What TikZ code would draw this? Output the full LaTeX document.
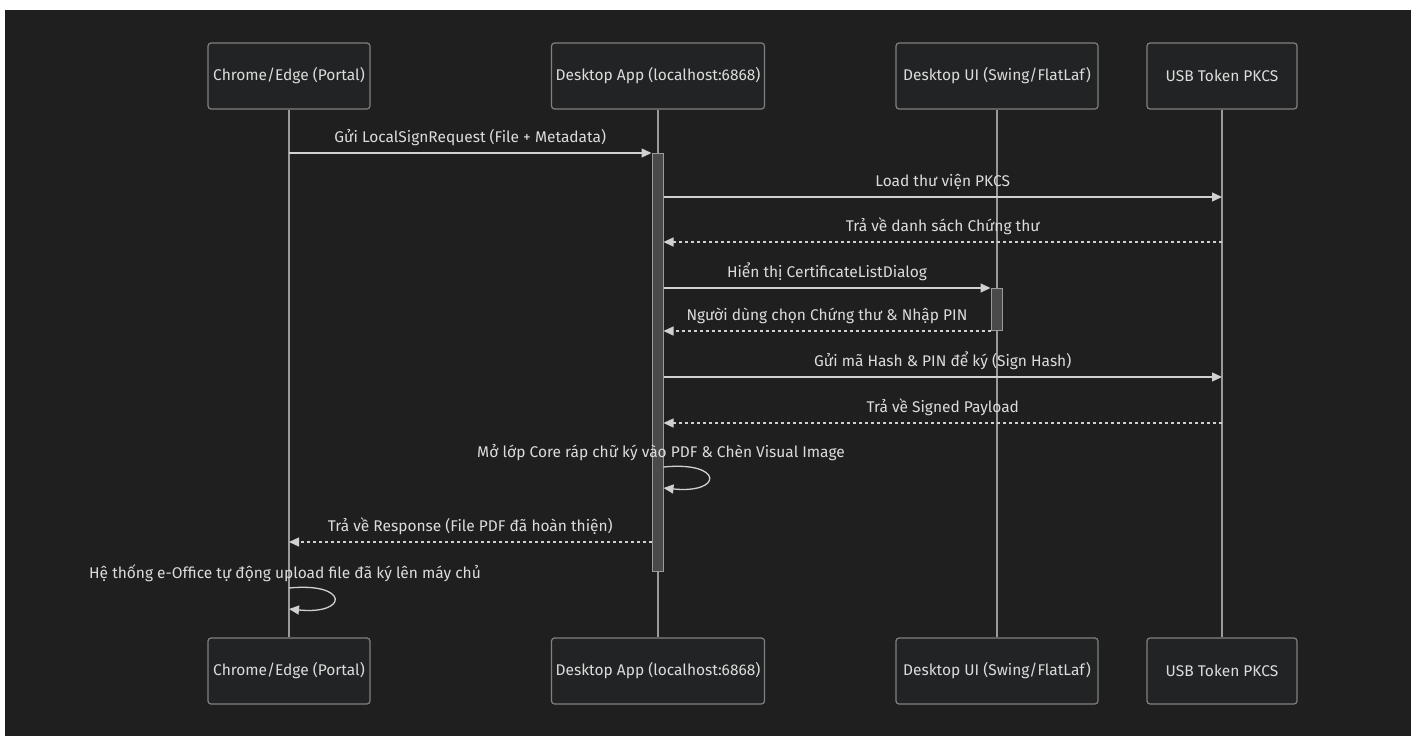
\documentclass[tikz,border=0pt]{standalone}
\usepackage{fontspec}
\setmainfont{Fira Sans}
\usetikzlibrary{arrows.meta}
\definecolor{bgdark}{HTML}{1F1F1F}
\definecolor{boxfill}{HTML}{222324}
\definecolor{boxline}{HTML}{808080}
\definecolor{lifegray}{HTML}{9A9A9A}
\definecolor{msggray}{HTML}{D0D0D0}
\definecolor{txtgray}{HTML}{DCDCDC}
\definecolor{actfill}{HTML}{4A4A4A}
\tikzset{
  actor/.style={draw=boxline, fill=boxfill, line width=1.2pt, rounded corners=3pt,
    minimum height=66pt, inner sep=0pt, text=txtgray, font=\fontsize{15.5}{17}\selectfont},
  lifeln/.style={draw=lifegray, line width=1.3pt},
  actbar/.style={draw=lifegray, fill=actfill, line width=1pt, minimum width=11pt, inner sep=0pt},
  msg/.style={draw=msggray, line width=1.3pt, -{Triangle[length=10pt,width=9pt]}},
  reply/.style={msg, dash pattern=on 3pt off 3pt},
  lbl/.style={text=txtgray, inner sep=0pt, font=\fontsize{15.5}{17}\selectfont},
}
\begin{document}
\begin{tikzpicture}[x=1pt,y=-1pt]
  \fill[white] (0,0) rectangle (1411,736);
  \fill[bgdark] (5,10) rectangle (1411,736);
  \useasboundingbox (0,0) rectangle (1411,736);

  % participants
  \node[actor, minimum width=162pt] (chromeT) at (289,76) {Chrome/Edge (Portal)};
  \node[actor, minimum width=213pt] (appT) at (658,76) {Desktop App (localhost:6868)};
  \node[actor, minimum width=202pt] (uiT) at (997,76) {Desktop UI (Swing/FlatLaf)};
  \node[actor, minimum width=150pt] (usbT) at (1222,76) {USB Token PKCS};
  \node[actor, minimum width=162pt] (chromeB) at (289,671) {Chrome/Edge (Portal)};
  \node[actor, minimum width=213pt] (appB) at (658,671) {Desktop App (localhost:6868)};
  \node[actor, minimum width=202pt] (uiB) at (997,671) {Desktop UI (Swing/FlatLaf)};
  \node[actor, minimum width=150pt] (usbB) at (1222,671) {USB Token PKCS};

  \draw[lifeln] (chromeT.south) -- (chromeB.north);
  \draw[lifeln] (appT.south) -- (appB.north);
  \draw[lifeln] (uiT.south) -- (uiB.north);
  \draw[lifeln] (usbT.south) -- (usbB.north);

  % activations
  \node[actbar, minimum height=418pt] (actA) at (657.5,362) {};
  \node[actbar, minimum height=42pt] (actU) at (996.5,309) {};

  % message rows
  \coordinate (r1) at (0,153);
  \coordinate (r2) at (0,197);
  \coordinate (r3) at (0,242);
  \coordinate (r4) at (0,288);
  \coordinate (r5) at (0,331);
  \coordinate (r6) at (0,377);
  \coordinate (r7) at (0,423);
  \coordinate (r8a) at (0,467);
  \coordinate (r8b) at (0,488);
  \coordinate (r9) at (0,542);
  \coordinate (r10a) at (0,588);
  \coordinate (r10b) at (0,609);

  \draw[msg] (chromeT.south |- r1) -- (actA.west |- r1)
    node[lbl, midway, above=7pt] {Gửi LocalSignRequest (File + Metadata)};
  \draw[msg] (actA.east |- r2) -- (usbT.south |- r2)
    node[lbl, midway, above=7pt] {Load thư viện PKCS};
  \draw[reply] (usbT.south |- r3) -- (actA.east |- r3)
    node[lbl, midway, above=7pt] {Trả về danh sách Chứng thư};
  \draw[msg] (actA.east |- r4) -- (actU.west |- r4)
    node[lbl, midway, above=7pt] {Hiển thị CertificateListDialog};
  \draw[reply] (actU.west |- r5) -- (actA.east |- r5)
    node[lbl, midway, above=7pt] {Người dùng chọn Chứng thư \& Nhập PIN};
  \draw[msg] (actA.east |- r6) -- (usbT.south |- r6)
    node[lbl, midway, above=7pt] {Gửi mã Hash \& PIN để ký (Sign Hash)};
  \draw[reply] (usbT.south |- r7) -- (actA.east |- r7)
    node[lbl, midway, above=7pt] {Trả về Signed Payload};

  % self calls
  \node[lbl] (selfA) at (661,453) {Mở lớp Core ráp chữ ký vào PDF \& Chèn Visual Image};
  \draw[msg] (actA.east |- r8a) .. controls +(60,-6) and +(60,6) .. (actA.east |- r8b);

  \draw[reply] (actA.west |- r9) -- (chromeT.south |- r9)
    node[lbl, midway, above=7pt] {Trả về Response (File PDF đã hoàn thiện)};

  \node[lbl] (selfC) at (285,573) {Hệ thống e-Office tự động upload file đã ký lên máy chủ};
  \draw[msg] (chromeT.south |- r10a) .. controls +(60,-6) and +(60,6) .. (chromeT.south |- r10b);
\end{tikzpicture}
\end{document}
